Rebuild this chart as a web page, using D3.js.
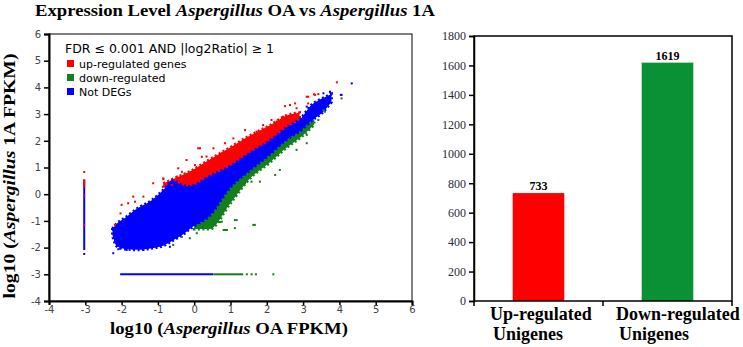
<!DOCTYPE html>
<html>
<head>
<meta charset="utf-8">
<script src="https://cdn.jsdelivr.net/npm/d3@7"></script>
<style>
  body { margin: 0; background: #fff; }
  svg { display: block; }
</style>
</head>
<body>
<svg id="chart" width="743" height="347"></svg>
<script>
// ---- scatter: dense part of the cloud, read column by column (log10 FPKM) ----
const blueX    = [-2.25, -2.13, -1.91, -1.55, -1.16, -0.8, -0.61, -0.3, -0.12, 0.43, 0.99, 1.54, 2.05, 2.55, 2.95, 3.2, 3.55, 3.78];
const blueLow  = [-1.55, -1.95, -2.05, -2.08, -2.02, -1.9, -1.75, -1.5, -1.3, -0.8, 0.25, 0.9, 1.45, 2.05, 2.4, 2.72, 3.08, 3.45];
const blueHigh = [-1.3, -1.1, -0.89, -0.52, -0.22, 0.23, 0.5, 0.32, 0.3, 0.68, 1.05, 1.55, 1.97, 2.5, 2.85, 3.3, 3.6, 3.75];

const redX    = [-0.85, -0.5, -0.12, 0.43, 0.99, 1.54, 2.05, 2.55, 2.9];
const redLow  = [0.3, 0.3, 0.28, 0.66, 1.03, 1.53, 1.95, 2.48, 2.8];
const redHigh = [0.4, 0.62, 0.85, 1.3, 1.75, 2.2, 2.55, 2.95, 3.05];

const greenX    = [0.0, 0.43, 0.99, 1.54, 2.05, 2.55, 2.95, 3.3];
const greenLow  = [-1.3, -1.3, -0.35, 0.6, 1.15, 1.75, 2.15, 2.6];
const greenHigh = [-1.1, -0.7, 0.3, 0.95, 1.5, 2.08, 2.45, 2.8];

// sparse points outside the dense band
const upPoints = [[3.93, 4.19], [3.30, 3.74], [3.14, 3.65], [3.14, 3.40], [2.82, 3.22], [2.45, 2.90],
  [2.27, 2.72], [1.90, 2.59], [1.40, 2.40], [1.72, 2.34], [1.08, 2.09], [0.53, 1.72], [0.11, 1.72],
  [0.34, 1.41], [-0.21, 1.28], [-0.44, 0.97], [-0.48, 0.66], [-0.85, 0.59], [-0.62, 0.34],
  [-1.13, 0.41], [-1.40, -0.09], [-1.68, -0.09], [-2.00, -0.40], [-2.03, -0.72], [-2.18, -1.15],
  [-1.82, -0.34], [-1.63, -0.28], [-0.85, 0.56], [-0.34, 0.84], [0.02, 1.09], [0.21, 1.40],
  [0.76, 1.53], [0.16, 1.72], [0.85, 1.91], [2.13, 2.78], [2.50, 3.30], [2.64, 3.34], [2.78, 3.40],
  [3.10, 3.65], [3.33, 3.72], [3.42, 3.75]];
const downPoints = [[4.06, 3.59], [3.56, 3.15], [3.10, 2.22], [3.10, 1.91], [2.82, 1.66], [2.23, 0.72],
  [1.81, 0.47], [1.58, 0.47], [1.17, -0.97], [0.90, -1.34], [0.81, -1.34], [0.76, -1.03],
  [1.63, -1.15], [0.25, -1.09], [0.07, -1.46], [-0.12, -1.65], [-0.58, -1.90], [-0.34, -1.60],
  [0.13, -1.15], [0.71, -1.04], [1.12, -1.27], [1.67, -1.15], [1.12, -0.97], [0.85, -1.34],
  [1.40, 0.41], [1.63, 0.84], [3.60, 3.09], [3.42, 2.78], [2.36, 0.91], [2.27, 1.47], [2.50, 1.78]];
const notDegPoints = [[4.34, 4.15], [4.04, 3.72], [3.74, 3.82], [3.56, 3.78], [-2.23, -2.21],
  [-2.09, -2.06], [-1.86, -2.09], [-1.68, -2.03], [-1.40, -2.09], [-0.67, -1.97], [-2.23, -1.34],
  [-2.04, -2.03], [-1.26, -1.97], [3.74, 3.84], [3.69, 3.47], [3.10, 3.28], [4.06, 3.72]];

// genes with no reads in one sample sit on x = -3.03 / y = -3
const oaZeroX = -3.03;
const oaZeroBlue = [-2.09, 0.55];
const oaZeroRed = [0.25, 0.55];
const oaZeroDots = [[0.83, 'up'], [-0.05, 'up'], [-1.15, 'up'], [-2.24, 'not']];
const onezeroY = -3;
const onezeroBlue = [-2.04, 0.53];
const onezeroGreen = [0.53, 1.35];
const onezeroDots = [1.45, 1.58, 1.70, 2.18];

const scatterTicks = [-4, -3, -2, -1, 0, 1, 2, 3, 4, 5, 6];

const legendKeys = ['up', 'down', 'not'];
const legendLabels = ['up-regulated genes', 'down-regulated', 'Not DEGs'];

// ---- bar chart ----
const barCats = ['Up-regulated Unigenes', 'Down-regulated Unigenes'];
const barValues = [733, 1619];
const barTicks = [0, 200, 400, 600, 800, 1000, 1200, 1400, 1600, 1800];

const colors = { up: '#ff0000', down: '#13801b', not: '#0000ff' };
const barColors = ['#ff0000', '#0b9135'];

const serif = '"Times New Roman", "Liberation Serif", serif';
const sans = '"Lucida Grande", "DejaVu Sans", sans-serif';

const svg = d3.select('#chart');

// stretch a text horizontally so it covers the same width as in the picture
function fitWidth(sel, x0, y0, w, rot) {
  const len = sel.node().getComputedTextLength();
  const k = w / len;
  sel.attr('transform', `translate(${x0},${y0})${rot ? ' rotate(-90)' : ''} scale(${k},1)`);
}

// title
const title = svg.append('text')
    .attr('text-anchor', 'middle')
    .style('font-family', serif).style('font-weight', 'bold').style('font-size', '16px');
title.append('tspan').text('Expression Level ');
title.append('tspan').style('font-style', 'italic').text('Aspergillus');
title.append('tspan').text(' OA vs ');
title.append('tspan').style('font-style', 'italic').text('Aspergillus');
title.append('tspan').text(' 1A');
fitWidth(title, 235, 16, 400);

// ================= scatter =================
const x = d3.scaleLinear().domain([-4, 6]).range([49, 412]);
const y = d3.scaleLinear().domain([-4, 6]).range([301, 34]);

const sc = svg.append('g');

sc.append('rect')
    .attr('x', x(-4)).attr('y', y(6))
    .attr('width', x(6) - x(-4)).attr('height', y(-4) - y(6))
    .attr('fill', 'none').attr('stroke', '#000').attr('stroke-width', 1);

const band = (xs, lo, hi) => xs.map((v, i) => ({ x: v, lo: lo[i], hi: hi[i] }));
const area = d3.area()
    .x(d => x(d.x)).y0(d => y(d.lo)).y1(d => y(d.hi))
    .curve(d3.curveMonotoneX);

// filled band plus a broken outline so the edge looks speckled like the dots
function cloud(data, c) {
  sc.append('path').datum(data).attr('d', area).attr('fill', c);
  sc.append('path').datum(data).attr('d', area).attr('fill', 'none')
      .attr('stroke', c).attr('stroke-width', 3).attr('stroke-dasharray', '2,2.5');
}
cloud(band(redX, redLow, redHigh), colors.up);
cloud(band(greenX, greenLow, greenHigh), colors.down);
cloud(band(blueX, blueLow, blueHigh), colors.not);

const dots = (pts, c) => sc.append('g').selectAll('rect').data(pts).join('rect')
    .attr('x', d => x(d[0]) - 1).attr('y', d => y(d[1]) - 1)
    .attr('width', 2).attr('height', 2).attr('fill', c);
dots(upPoints, colors.up);
dots(downPoints, colors.down);
dots(notDegPoints, colors.not);

// zero lines
const seg = (x1, y1, x2, y2, c) => sc.append('line')
    .attr('x1', x(x1)).attr('y1', y(y1)).attr('x2', x(x2)).attr('y2', y(y2))
    .attr('stroke', c).attr('stroke-width', 2);
seg(oaZeroX, oaZeroBlue[0], oaZeroX, oaZeroBlue[1], colors.not);
seg(oaZeroX, oaZeroRed[0], oaZeroX, oaZeroRed[1], colors.up);
dots(oaZeroDots.map(d => [oaZeroX, d[0]]), null).attr('fill', (d, i) => colors[oaZeroDots[i][1]]);
seg(onezeroBlue[0], onezeroY, onezeroBlue[1], onezeroY, colors.not);
seg(onezeroGreen[0], onezeroY, onezeroGreen[1], onezeroY, colors.down);
dots(onezeroDots.map(v => [v, onezeroY]), colors.down);

// axes
const fmt = d => String(d);
const yAx = sc.append('g').attr('transform', `translate(${x(-4)},0)`)
    .call(d3.axisLeft(y).tickValues(scatterTicks).tickSize(5).tickPadding(3).tickFormat(fmt));
const xAx = sc.append('g').attr('transform', `translate(0,${y(-4)})`)
    .call(d3.axisBottom(x).tickValues(scatterTicks).tickSize(4).tickPadding(1).tickFormat(fmt));
[yAx, xAx].forEach(a => {
  a.select('.domain').attr('stroke-width', 2);
  a.selectAll('text').style('font-family', sans).style('font-size', '10px').attr('fill', '#444');
  a.selectAll('line').attr('stroke-width', 1.5);
});

// legend
const lg = sc.append('g');
lg.append('text').attr('x', 65).attr('y', 53)
    .style('font-family', sans).style('font-size', '12.5px')
    .text('FDR \u2264 0.001 AND |log2Ratio| \u2265 1');
const li = lg.selectAll('g.item').data(legendKeys).join('g').attr('class', 'item')
    .attr('transform', (d, i) => `translate(67,${60 + i * 14})`);
li.append('rect').attr('width', 7).attr('height', 7).attr('fill', d => colors[d]);
li.append('text').attr('x', 12).attr('y', 7.5)
    .style('font-family', sans).style('font-size', '11px')
    .text((d, i) => legendLabels[i]);

// axis titles
const xt = svg.append('text').attr('text-anchor', 'middle')
    .style('font-family', serif).style('font-weight', 'bold').style('font-size', '17px');
xt.append('tspan').text('log10 (');
xt.append('tspan').style('font-style', 'italic').text('Aspergillus');
xt.append('tspan').text(' OA FPKM)');
fitWidth(xt, 229, 334, 238);

const yt = svg.append('text').attr('text-anchor', 'middle')
    .style('font-family', serif).style('font-weight', 'bold').style('font-size', '17px');
yt.append('tspan').text('log10 (');
yt.append('tspan').style('font-style', 'italic').text('Aspergillus');
yt.append('tspan').text(' 1A FPKM)');
fitWidth(yt, 15, 176, 245, true);

// ================= bars =================
const bx = d3.scaleBand().domain(barCats).range([474, 732]).padding(0);
const by = d3.scaleLinear().domain([0, 1800]).range([301, 36]);
const bw = bx.bandwidth() * 0.4;

const bc = svg.append('g');

bc.selectAll('rect.bar').data(barValues).join('rect').attr('class', 'bar')
    .attr('x', (d, i) => bx(barCats[i]) + bx.bandwidth() / 2 - bw / 2)
    .attr('y', d => by(d))
    .attr('width', bw).attr('height', d => by(0) - by(d))
    .attr('fill', (d, i) => barColors[i]);

bc.selectAll('text.val').data(barValues).join('text').attr('class', 'val')
    .attr('x', (d, i) => bx(barCats[i]) + bx.bandwidth() / 2)
    .attr('y', d => by(d) - 3).attr('text-anchor', 'middle')
    .style('font-family', serif).style('font-weight', 'bold').style('font-size', '12px')
    .text(d => d);

bc.append('rect')
    .attr('x', 474).attr('y', by(1800)).attr('width', 732 - 474).attr('height', by(0) - by(1800))
    .attr('fill', 'none').attr('stroke', '#000').attr('stroke-width', 1.5);

const byAx = bc.append('g').attr('transform', 'translate(474,0)')
    .call(d3.axisLeft(by).tickValues(barTicks).tickSize(5).tickPadding(3).tickFormat(d3.format('d')));
byAx.select('.domain').attr('stroke-width', 1.5);
byAx.selectAll('line').attr('stroke-width', 1.5);
byAx.selectAll('text').style('font-family', serif).style('font-size', '12px').attr('fill', '#2a2a3a');

// category ticks between bands
const edges = [bx(barCats[0]), bx(barCats[1]), bx(barCats[1]) + bx.bandwidth()];
bc.selectAll('line.edge').data(edges).join('line').attr('class', 'edge')
    .attr('x1', d => d).attr('x2', d => d).attr('y1', by(0)).attr('y2', by(0) + 5)
    .attr('stroke', '#000').attr('stroke-width', 1.5);

// category labels, two lines each
barCats.forEach((c, i) => {
  const words = c.split(' ');
  const x0 = bx(c) + (i === 0 ? 16 : 13);
  words.forEach((w, j) => {
    bc.append('text').attr('x', x0 + j * 3).attr('y', 320 + j * 20)
        .style('font-family', serif).style('font-weight', 'bold').style('font-size', '18px')
        .text(w);
  });
});
</script>
</body>
</html>
